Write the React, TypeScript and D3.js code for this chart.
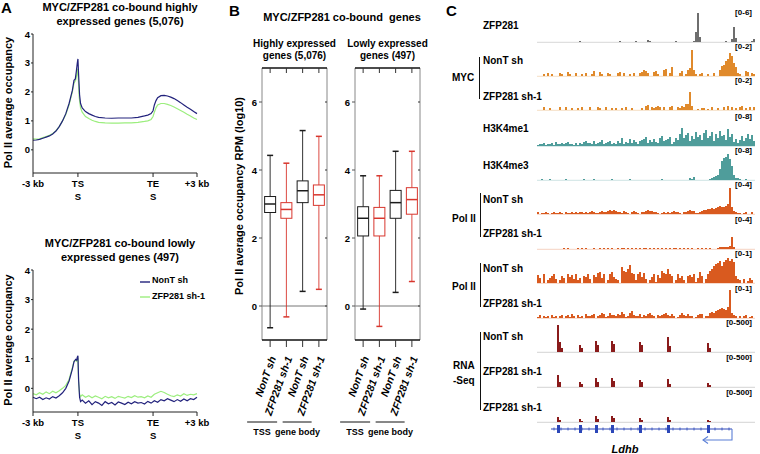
import React from 'react';
import * as d3 from 'd3';

const FONT = "'Liberation Sans', Arial, Helvetica, sans-serif";

// ---------- Panel A: Pol II metagene profiles ----------
// x = position on the scaled metagene (0 = -3 kb, 27.4 = TSS, 73.2 = TES, 100 = +3 kb)
const metaTickPos = [0, 27.4, 73.2, 100];
const metaTickLabels = [['-3 kb'], ['TS', 'S'], ['TE', 'S'], ['+3 kb']];
const profileYTicks = [0, 1, 2, 3, 4];

const highNonT: [number, number][] = [
  [0, 0.33], [2, 0.34], [4, 0.36], [6, 0.4], [8, 0.44], [10, 0.48], [12, 0.55], [14, 0.65], [16, 0.8],
  [18, 1.0], [20, 1.25], [22, 1.6], [24, 2.05], [25, 2.4], [25.8, 2.45], [26.4, 2.7], [27, 3.0], [27.4, 3.14],
  [27.8, 2.6], [28.4, 1.9], [29, 1.6], [30, 1.45], [32, 1.32], [34, 1.25], [36, 1.2], [38, 1.15], [40, 1.12],
  [44, 1.1], [48, 1.09], [52, 1.1], [56, 1.1], [60, 1.1], [64, 1.12], [68, 1.17], [70, 1.2], [72, 1.25],
  [73.2, 1.35], [74, 1.55], [75, 1.7], [76, 1.8], [78, 1.87], [80, 1.88], [82, 1.86], [84, 1.82], [86, 1.77],
  [88, 1.7], [90, 1.63], [92, 1.55], [94, 1.47], [96, 1.4], [98, 1.32], [100, 1.25],
];
const highZfp: [number, number][] = [
  [0, 0.38], [2, 0.37], [4, 0.38], [6, 0.42], [8, 0.46], [10, 0.5], [12, 0.56], [14, 0.66], [16, 0.8],
  [18, 1.0], [20, 1.22], [22, 1.55], [24, 2.0], [25, 2.3], [26, 2.4], [26.6, 2.55], [27.2, 2.8], [27.6, 2.5],
  [28.2, 1.8], [29, 1.45], [30, 1.3], [32, 1.15], [34, 1.08], [36, 1.02], [38, 0.98], [40, 0.95], [44, 0.93],
  [48, 0.92], [52, 0.92], [56, 0.93], [60, 0.93], [64, 0.95], [68, 0.98], [70, 1.0], [72, 1.05], [73.2, 1.15],
  [74, 1.3], [75, 1.45], [76, 1.55], [78, 1.6], [80, 1.6], [82, 1.57], [84, 1.53], [86, 1.48], [88, 1.42],
  [90, 1.36], [92, 1.3], [94, 1.23], [96, 1.17], [98, 1.1], [100, 1.05],
];
const lowNonT: [number, number][] = [
  [0, -0.3], [2, -0.35], [4, -0.3], [6, -0.38], [8, -0.32], [10, -0.36], [12, -0.28], [14, -0.33], [16, -0.25],
  [18, -0.15], [20, 0.0], [22, 0.25], [24, 0.65], [25, 0.9], [26, 0.98], [26.6, 0.95], [27, 1.05], [27.4, 1.1],
  [27.8, 0.3], [28.4, -0.3], [29, -0.45], [30, -0.4], [32, -0.5], [34, -0.42], [36, -0.55], [38, -0.45],
  [40, -0.5], [42, -0.58], [44, -0.45], [46, -0.52], [48, -0.48], [50, -0.56], [52, -0.46], [54, -0.5],
  [56, -0.55], [58, -0.47], [60, -0.52], [62, -0.45], [64, -0.5], [66, -0.48], [68, -0.53], [70, -0.44],
  [72, -0.5], [74, -0.42], [76, -0.47], [78, -0.38], [80, -0.42], [82, -0.35], [84, -0.4], [86, -0.45],
  [88, -0.38], [90, -0.44], [92, -0.36], [94, -0.42], [96, -0.35], [98, -0.38], [100, -0.3],
];
const lowZfp: [number, number][] = [
  [0, -0.18], [2, -0.22], [4, -0.15], [6, -0.2], [8, -0.12], [10, -0.18], [12, -0.1], [14, -0.15], [16, -0.08],
  [18, 0.0], [20, 0.1], [22, 0.3], [24, 0.7], [25, 0.92], [26, 0.95], [26.6, 0.92], [27, 0.98], [27.4, 1.0],
  [27.8, 0.2], [28.4, -0.2], [29, -0.28], [30, -0.22], [32, -0.3], [34, -0.25], [36, -0.32], [38, -0.26],
  [40, -0.3], [42, -0.35], [44, -0.27], [46, -0.32], [48, -0.28], [50, -0.34], [52, -0.27], [54, -0.3],
  [56, -0.33], [58, -0.27], [60, -0.31], [62, -0.25], [64, -0.3], [66, -0.28], [68, -0.32], [70, -0.26],
  [72, -0.3], [74, -0.2], [76, -0.15], [78, -0.1], [80, -0.14], [82, -0.2], [84, -0.25], [86, -0.28],
  [88, -0.22], [90, -0.26], [92, -0.18], [94, -0.24], [96, -0.2], [98, -0.22], [100, -0.18],
];

// ---------- Panel B: box plots, [min, q1, median, q3, max] ----------
const boxCategories = ['NonT sh', 'ZFP281 sh-1', 'NonT sh', 'ZFP281 sh-1'];
const boxColors = ['#1b1b1b', '#d8362d', '#1b1b1b', '#d8362d'];
const boxYTicks = [0, 2, 4, 6];
const highBoxes = [
  [-0.64, 2.75, 3.0, 3.22, 4.43],
  [-0.32, 2.58, 2.84, 3.04, 4.2],
  [0.43, 3.04, 3.39, 3.68, 5.16],
  [0.49, 2.96, 3.27, 3.56, 4.99],
];
const lowBoxes = [
  [-0.09, 2.06, 2.58, 2.92, 3.83],
  [-0.6, 2.06, 2.58, 2.9, 3.83],
  [0.4, 2.58, 3.04, 3.4, 4.55],
  [0.72, 2.7, 3.13, 3.48, 4.55],
];

// ---------- Panel C: genome browser tracks (one base-36 level per bin) ----------
const zfp281Track = ['0000000000', '0000000000', '0100000000', '0000000000', '0100000001',
  '0000021000', '0000000001', '000000001a', 't500000000', '00001003f4', '000000013'];
const mycNonT = ['0002030200', '0320042003', '0020300250', '0420032000', '3403002030',
  '0346530045', '2006703900', '0350268q62', '0230020030', '06abfhnkd9', '320054032'];
const mycZfp = ['0003002000', '0300300200', '2030003000', '3200300202', '0020300200',
  '0020450323', '4303003400', '324366i400', '1022010300', '2003040302', '034020303'];
const h3k4me1 = ['1223122314', '2232342213', '1324533252', '3462345232', '5382437364',
  '2567936474', '38a5679248', '6ci8bd5a7e', '9b6dg8ae5c', '8fab6h9c47', '36a58c7b5'];
const h3k4me3 = ['0010001000', '0000100000', '0001000010', '0000000100', '0000001000',
  '0000000000', '0010000000', '0000002130', '0000001234', '5bjmnqle52', '210010000'];
const polNonT = ['2011210121', '1210211212', '1221212321', '1232234343', '2213210232',
  '1022343322', '1012121232', '2102234331', '1234455656', '78778aq732', '110120020'];
const polZfp = ['0000000000', '0001010000', '1010100010', '0101010100', '1011010101',
  '0101101010', '1010101011', '0101010100', '1010101000', '1222223c20', '000000000'];
const pol2NonT = ['8509035794', '0375096849', '3507694086', 'ab59039b64', '30gcbeia93',
  '9b6a403691', '85ca9e9703', '9573078691', '5b7049cehj', 'kmhlnpmol7', '430402530'];
const pol2Zfp = ['1302120312', '0230231420', '3120422340', '2354125332', '4364125732',
  '2413245320', '3234532420', '1353242201', '3440225657', '89a98bs532', '020230120'];
const rnaNonT = ['0000000000', 'ra40000000', '074000000b', '7000000b80', '0000000000',
  '0a70000000', '00000f6000', '0000000000', '0000094000', '0000000000', '000000000'];
const rnaZfp = ['0000000000', 'c500000000', '0530000009', '5000000960', '0000000000',
  '0750000000', '0000083000', '0000000000', '0000042000', '0000000000', '000000000'];
const rnaZfp2 = ['0000000000', '5200000000', '0310000006', '3000000640', '0000000000',
  '0420000000', '0000052000', '0000000000', '0000021000', '0000000000', '000000000'];

const trackData = [zfp281Track, mycNonT, mycZfp, h3k4me1, h3k4me3, polNonT, polZfp, pol2NonT, pol2Zfp, rnaNonT, rnaZfp, rnaZfp2];
const trackRanges = ['[0-6]', '[0-2]', '[0-2]', '[0-8]', '[0-8]', '[0-4]', '[0-4]', '[0-1]', '[0-1]', '[0-500]', '[0-500]', '[0-500]'];
const trackColors = ['#6e6e6e', '#e08a2c', '#e08a2c', '#4f9d9b', '#4f9d9b', '#d95a1f', '#d95a1f', '#d95a1f', '#d95a1f', '#8a1b1b', '#8a1b1b', '#8a1b1b'];
const trackBaselines = [42, 76, 110, 146, 180, 214, 249, 283, 318, 352, 387, 422];

const exonBins = [10, 21, 29, 37, 51, 65, 85];
const geneSpan = [7, 97.5];
const tssArrowEnd = 83;

const bold = { fontFamily: FONT, fontWeight: 700 as const };

function Profile({ y0, y1, title, nont, zfp, legend }: any) {
  const x = d3.scaleLinear().domain([0, 100]).range([33, 197]);
  const y = d3.scaleLinear().domain([-0.8, 4]).range([y1, y0]);
  const line = d3.line<[number, number]>().x(d => x(d[0])).y(d => y(d[1]));
  const mid = (y0 + y1) / 2;
  return (
    <g>
      <text x={120} y={y0 - 23} textAnchor="middle" fontSize={11} {...bold}>{title[0]}</text>
      <text x={120} y={y0 - 9} textAnchor="middle" fontSize={11} {...bold}>{title[1]}</text>
      <text transform={`translate(12,${mid - 1}) rotate(-90)`} textAnchor="middle" fontSize={11} {...bold}>Pol II average occupancy</text>
      <path d={line(zfp) || ''} fill="none" stroke="#9cee7e" strokeWidth={1.2} />
      <path d={line(nont) || ''} fill="none" stroke="#22227c" strokeWidth={1.2} />
      <line x1={33} x2={33} y1={y0} y2={y1} stroke="#222" />
      {profileYTicks.map(t => (
        <g key={t}>
          <line x1={31} x2={33} y1={y(t)} y2={y(t)} stroke="#222" />
          <text x={30} y={y(t) + 3.5} textAnchor="end" fontSize={9.5} {...bold}>{t}</text>
        </g>
      ))}
      <line x1={33} x2={197} y1={y1} y2={y1} stroke="#222" />
      {metaTickPos.map((p, i) => (
        <g key={p}>
          <line x1={x(p)} x2={x(p)} y1={y1} y2={y1 + 4} stroke="#222" />
          {metaTickLabels[i].map((s, j) => (
            <text key={j} x={x(p)} y={y1 + 14 + j * 13} textAnchor="middle" fontSize={9.5} {...bold}>{s}</text>
          ))}
        </g>
      ))}
      {legend && (
        <g>
          <line x1={140} x2={150} y1={282} y2={282} stroke="#22227c" strokeWidth={1.4} />
          <text x={152} y={282.5} fontSize={9} {...bold}>NonT sh</text>
          <line x1={140} x2={150} y1={297} y2={297} stroke="#9cee7e" strokeWidth={1.4} />
          <text x={152} y={298.5} fontSize={9} {...bold}>ZFP281 sh-1</text>
        </g>
      )}
    </g>
  );
}

function BoxPanel({ x0, x1, boxes, sub }: any) {
  const y = d3.scaleLinear().domain([-1, 7]).range([340, 68]);
  const xb = d3.scaleBand<number>().domain([0, 1, 2, 3]).range([x0, x1]);
  const cx = (i: number) => (xb(i) as number) + xb.bandwidth() / 2;
  const bw = 11;
  const cx1 = cx(0);
  const cx3 = cx(2);
  return (
    <g>
      <text x={(x0 + x1) / 2} y={47} textAnchor="middle" fontSize={10} {...bold}>{sub[0]}</text>
      <text x={(x0 + x1) / 2} y={59} textAnchor="middle" fontSize={10} {...bold}>{sub[1]}</text>
      <line x1={x0} x2={x1} y1={y(0)} y2={y(0)} stroke="#777" />
      {boxes.map((b: number[], i: number) => {
        const c = cx(i);
        const col = boxColors[i];
        return (
          <g key={i} stroke={col} fill="none">
            <line x1={c} x2={c} y1={y(b[0])} y2={y(b[4])} strokeWidth={0.9} />
            <line x1={c - 3} x2={c + 3} y1={y(b[0])} y2={y(b[0])} strokeWidth={1.5} />
            <line x1={c - 3} x2={c + 3} y1={y(b[4])} y2={y(b[4])} strokeWidth={1.5} />
            <rect x={c - bw / 2} y={y(b[3])} width={bw} height={y(b[1]) - y(b[3])} fill="#fff" strokeWidth={1} />
            <line x1={c - bw / 2} x2={c + bw / 2} y1={y(b[2])} y2={y(b[2])} strokeWidth={1.5} />
          </g>
        );
      })}
      <line x1={x0} x2={x0} y1={68} y2={340} stroke="#888" />
      <line x1={x1} x2={x1} y1={68} y2={340} stroke="#888" />
      {boxYTicks.map(t => (
        <g key={t}>
          <line x1={x0 - 3} x2={x0} y1={y(t)} y2={y(t)} stroke="#555" />
          <line x1={x1 - 2} x2={x1} y1={y(t)} y2={y(t)} stroke="#333" />
          <text x={x0 - 5} y={y(t) + 3.5} textAnchor="end" fontSize={9.5} {...bold}>{t}</text>
        </g>
      ))}
      <line x1={x0} x2={x1} y1={68} y2={68} stroke="#111" strokeWidth={1.6} />
      <line x1={x0} x2={x1} y1={340} y2={340} stroke="#111" strokeWidth={1.6} />
      {boxCategories.map((name, i) => (
        <g key={i}>
          <line x1={cx(i)} x2={cx(i)} y1={68} y2={73} stroke="#333" />
          <line x1={cx(i)} x2={cx(i)} y1={340} y2={347} stroke="#333" />
          <text transform={`translate(${cx(i) + 6},358) rotate(-70)`} textAnchor="end" fontSize={10.5} fontStyle="italic" {...bold}>{name}</text>
        </g>
      ))}
      <line x1={cx1 - 23} x2={cx1 + 7} y1={422} y2={422} stroke="#111" />
      <line x1={cx3 - 20} x2={cx3 + 9} y1={422} y2={422} stroke="#111" />
      <text x={cx1 - 8} y={435} textAnchor="middle" fontSize={9} {...bold}>TSS</text>
      <text x={cx3 - 5} y={435} textAnchor="middle" fontSize={9} {...bold}>gene body</text>
    </g>
  );
}

function Tracks() {
  const nBins = 109;
  const x = d3.scaleLinear().domain([0, nBins]).range([537, 755]);
  return (
    <g>
      {trackData.map((segs, k) => {
        const vals = segs.join('').split('').map(ch => parseInt(ch, 36));
        const base = trackBaselines[k];
        const y = d3.scaleLinear().domain([0, 30]).range([base, base - 30]);
        const pts = vals.map((v, i) => [i, v] as [number, number]).concat([[vals.length, vals[vals.length - 1]]]);
        const area = d3.area<[number, number]>().x(d => x(d[0])).y0(base).y1(d => y(d[1])).curve(d3.curveStepAfter);
        const isRna = k >= 9;
        return (
          <g key={k}>
            <line x1={537} x2={755} y1={base + 0.3} y2={base + 0.3}
              stroke={isRna ? '#c8c8c8' : trackColors[k]} strokeOpacity={isRna ? 1 : 0.35} strokeWidth={0.8} />
            <path d={area(pts) || ''} fill={trackColors[k]} />
            <text x={752} y={base - 27} textAnchor="end" fontSize={8} {...bold}>{trackRanges[k]}</text>
          </g>
        );
      })}
      {/* gene model */}
      <line x1={x(geneSpan[0])} x2={x(geneSpan[1])} y1={429} y2={429} stroke="#2c47b8" strokeWidth={1} />
      {d3.range(geneSpan[0] + 1.5, geneSpan[1], 3.5).map(b => (
        <line key={b} x1={x(b)} x2={x(b)} y1={427.5} y2={430.5} stroke="#2c47b8" strokeWidth={0.8} />
      ))}
      {exonBins.map(b => (
        <rect key={b} x={x(b)} y={425} width={x(b + 1.5) - x(b)} height={8} fill="#2c47b8" />
      ))}
      <path d={`M${x(geneSpan[1])},429 V440 H${x(tssArrowEnd)}`} fill="none" stroke="#5b7fd6" strokeWidth={1.1} />
      <path d={`M${x(tssArrowEnd) + 5},436.5 L${x(tssArrowEnd)},440 L${x(tssArrowEnd) + 5},443.5`} fill="none" stroke="#5b7fd6" strokeWidth={1.1} />
      <text x={625} y={453} textAnchor="middle" fontSize={11} fontStyle="italic" {...bold}>Ldhb</text>
    </g>
  );
}

function TrackLabels() {
  const s = { fontSize: 10, ...bold };
  return (
    <g>
      <text x={483} y={29} {...s}>ZFP281</text>
      <text x={452} y={81} {...s}>MYC</text>
      <line x1={479.5} x2={479.5} y1={57} y2={99} stroke="#111" />
      <text x={483} y={64} {...s}>NonT sh</text>
      <text x={483} y={100} {...s}>ZFP281 sh-1</text>
      <text x={483} y={132} {...s}>H3K4me1</text>
      <text x={483} y={169} {...s}>H3K4me3</text>
      <text x={452} y={222} {...s}>Pol II</text>
      <line x1={480.5} x2={480.5} y1={193} y2={237} stroke="#111" />
      <text x={483} y={203} {...s}>NonT sh</text>
      <text x={483} y={237} {...s}>ZFP281 sh-1</text>
      <text x={452} y={290} {...s}>Pol II</text>
      <line x1={480.5} x2={480.5} y1={263} y2={307} stroke="#111" />
      <text x={483} y={272} {...s}>NonT sh</text>
      <text x={483} y={307} {...s}>ZFP281 sh-1</text>
      <text x={453} y={369} {...s}>RNA</text>
      <text x={453} y={384} {...s}>-Seq</text>
      <line x1={480.5} x2={480.5} y1={332} y2={410} stroke="#111" />
      <text x={483} y={340} {...s}>NonT sh</text>
      <text x={483} y={375} {...s}>ZFP281 sh-1</text>
      <text x={483} y={411} {...s}>ZFP281 sh-1</text>
    </g>
  );
}

export default function App() {
  return (
    <svg width={760} height={454} style={{ position: 'absolute', left: 0, top: 0, background: '#fff' }}>
      <text x={1} y={13} fontSize={15} {...bold}>A</text>
      <text x={229} y={16} fontSize={15} {...bold}>B</text>
      <text x={446} y={16} fontSize={15} {...bold}>C</text>
      <Profile y0={34} y1={173} title={['MYC/ZFP281 co-bound highly', 'expressed genes (5,076)']} nont={highNonT} zfp={highZfp} />
      <Profile y0={270} y1={412} title={['MYC/ZFP281 co-bound lowly', 'expressed genes (497)']} nont={lowNonT} zfp={lowZfp} legend />
      <text x={342} y={21} textAnchor="middle" fontSize={11} style={{ whiteSpace: 'pre' }} {...bold}>{'MYC/ZFP281 co-bound  genes'}</text>
      <text transform="translate(243,196) rotate(-90)" textAnchor="middle" fontSize={11} {...bold}>Pol II average occupancy RPM (log10)</text>
      <BoxPanel x0={262} x1={327} boxes={highBoxes} sub={['Highly expressed', 'genes (5,076)']} />
      <BoxPanel x0={355} x1={420} boxes={lowBoxes} sub={['Lowly expressed', 'genes (497)']} />
      <TrackLabels />
      <Tracks />
    </svg>
  );
}
